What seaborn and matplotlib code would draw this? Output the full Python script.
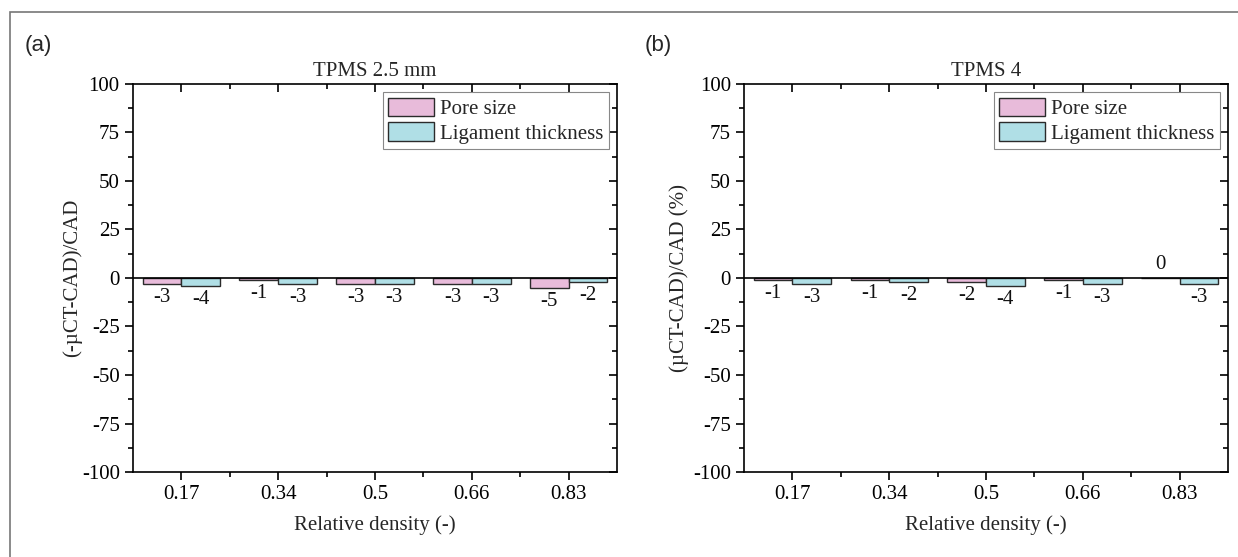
import matplotlib
matplotlib.use("Agg")
import matplotlib.pyplot as plt
from matplotlib.ticker import MultipleLocator, FixedLocator
from matplotlib.patches import Rectangle
import seaborn as sns
import pandas as pd

categories = ["0.17", "0.34", "0.5", "0.66", "0.83"]
series = ["Pore size", "Ligament thickness"]
a_pore = [-3, -1, -3, -3, -5]
a_lig = [-4, -3, -3, -3, -2]
b_pore = [-1, -1, -2, -1, 0]
b_lig = [-3, -2, -4, -3, -3]
titles = ["TPMS 2.5 mm", "TPMS 4"]
ylabels = ["(-\u00b5CT-CAD)/CAD", "(\u00b5CT-CAD)/CAD (%)"]
panel_labels = ["(a)", "(b)"]
xlabel = "Relative density (-)"
yticks = [-100, -75, -50, -25, 0, 25, 50, 75, 100]

colors = ["#E8BBDA", "#B0DFE6"]

sns.set_theme(style="white")
plt.rcParams["font.family"] = ["Liberation Serif", "DejaVu Serif"]
plt.rcParams["axes.unicode_minus"] = False
FS = 15

fig = plt.figure(figsize=(12.38, 5.57), dpi=100)
axes = [fig.add_axes([0.1074, 0.1526, 0.391, 0.6966]),
        fig.add_axes([0.601, 0.1526, 0.391, 0.6966])]
ylabelpads = [0, 3]

data_sets = [(a_pore, a_lig), (b_pore, b_lig)]
for i, ax in enumerate(axes):
    pore, lig = data_sets[i]
    df = pd.DataFrame({
        "Relative density": categories * 2,
        "Series": [series[0]] * len(categories) + [series[1]] * len(categories),
        "Value": pore + lig,
    })
    sns.barplot(data=df, x="Relative density", y="Value", hue="Series",
                order=categories, hue_order=series, palette=colors,
                width=0.8, edgecolor="#2b2b2b", linewidth=1.0, ax=ax,
                errorbar=None, saturation=1)
    for cont in ax.containers:
        ax.bar_label(cont, fmt="%d", padding=3, fontsize=FS, color="#111111")
    ax.axhline(0, color="black", lw=1.2, zorder=3)
    ax.set_ylim(-100, 100)
    ax.set_xlim(-0.5, len(categories) - 0.5)
    ax.set_yticks(yticks)
    ax.yaxis.set_minor_locator(MultipleLocator(12.5))
    ax.xaxis.set_minor_locator(FixedLocator([k + 0.5 for k in range(len(categories) - 1)]))
    ax.tick_params(axis="both", which="both", direction="out", labelsize=FS,
                   color="black", labelcolor="black",
                   left=True, bottom=True, top=True, right=True)
    ax.tick_params(which="major", length=6, width=1.2)
    ax.tick_params(which="minor", length=3.5, width=1.2)
    for t in ax.xaxis.get_major_ticks() + ax.xaxis.get_minor_ticks():
        t.tick2line.set_marker(matplotlib.lines.TICKDOWN)
    for t in ax.yaxis.get_major_ticks() + ax.yaxis.get_minor_ticks():
        t.tick2line.set_marker(matplotlib.lines.TICKLEFT)
    for s in ax.spines.values():
        s.set_visible(True)
        s.set_color("black")
        s.set_linewidth(1.2)
    ax.set_title(titles[i], fontsize=FS, pad=6)
    ax.set_xlabel(xlabel, fontsize=FS, labelpad=8)
    ax.set_ylabel(ylabels[i], fontsize=FS, labelpad=ylabelpads[i])
    leg = ax.legend(loc="upper right", fontsize=FS, frameon=True, fancybox=False,
                    edgecolor="#888888", framealpha=1, handlelength=2.2,
                    handleheight=1.0, handletextpad=0.3, borderpad=0.25,
                    labelspacing=0.15, borderaxespad=0.4)
    leg.get_frame().set_linewidth(0.8)
    for h in leg.legend_handles:
        h.set_edgecolor("#2b2b2b")

fig.text(25 / 1238, 1 - 46 / 557, panel_labels[0], fontsize=16,
         family=["Liberation Sans", "DejaVu Sans"], va="center", ha="left")
fig.text(645 / 1238, 1 - 46 / 557, panel_labels[1], fontsize=16,
         family=["Liberation Sans", "DejaVu Sans"], va="center", ha="left")

fig.patches.append(Rectangle((10 / 1238, -0.1), 1.2, 1 - 12 / 557 + 0.1,
                             transform=fig.transFigure, fill=False,
                             edgecolor="#777777", lw=1.2, clip_on=False))

fig.savefig("out.png", dpi=100)
